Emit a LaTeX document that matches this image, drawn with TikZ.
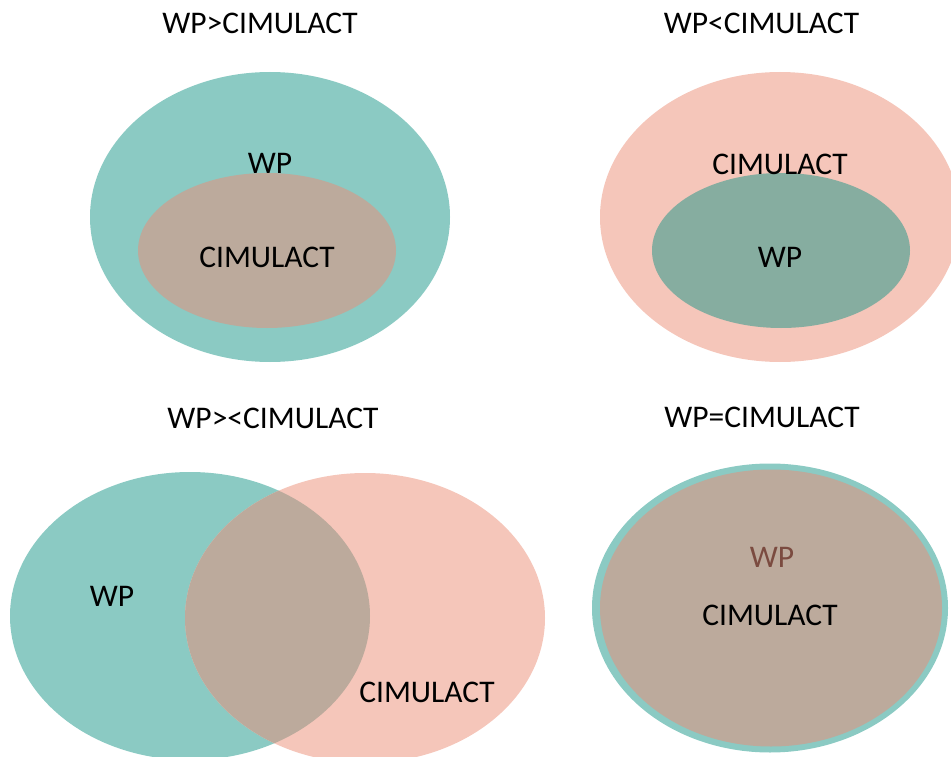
\documentclass[tikz,border=0pt]{standalone}
\usepackage{fontspec}
\setmainfont{Carlito}
\usetikzlibrary{shapes.geometric}
\definecolor{wpteal}{HTML}{8BCAC3}
\definecolor{cimsalmon}{HTML}{F5C6BA}
\definecolor{mixbrown}{HTML}{BCAA9C}
\definecolor{wpdark}{HTML}{86ADA0}
\definecolor{wpred}{HTML}{7B4B40}
\begin{document}
\begin{tikzpicture}[x=1pt,y=-1pt]
\tikzstyle{blob} = [ellipse, inner sep=0pt, draw=none] % овал без контура
\tikzstyle{big} = [blob, minimum width=360pt, minimum height=290pt] % большой овал
\tikzstyle{small} = [blob, minimum width=258pt, minimum height=155pt] % внутренний овал
\tikzstyle{txt} = [font=\fontsize{31.5}{36}\selectfont, inner sep=0pt]
\useasboundingbox (0,0) rectangle (951,757);

% WP > CIMULACT
\node[txt] (t1) at (260,23.5) {WP>CIMULACT};
\node[big, fill=wpteal] (wp1) at (270,217) {};
\node[small, fill=mixbrown] (cim1) at (267,250.5) {};
\node[txt] (lwp1) at (270,163) {WP};
\node[txt] (lcim1) at (267,257) {CIMULACT};

% WP < CIMULACT
\node[txt] (t2) at (761.5,23.5) {WP<CIMULACT};
\node[big, fill=cimsalmon] (cim2) at (780,217) {};
\node[small, fill=wpdark] (wp2) at (781,250.5) {};
\node[txt] (lcim2) at (780,164) {CIMULACT};
\node[txt] (lwp2) at (780,257) {WP};

% WP >< CIMULACT
\node[txt] (t3) at (273,418.5) {WP><CIMULACT};
\node[blob, fill=wpteal, minimum width=360pt, minimum height=288pt] (wp3) at (190,616) {};
\node[big, fill=cimsalmon] (cim3) at (365,618) {};
\begin{scope}
\clip (365,618) ellipse [x radius=180, y radius=145];
\fill[mixbrown] (190,616) ellipse [x radius=180, y radius=144];
\end{scope}
\node[txt] (lwp3) at (112,596) {WP};
\node[txt] (lcim3) at (427,692) {CIMULACT};

% WP = CIMULACT
\node[txt] (t4) at (762,417) {WP=CIMULACT};
\node[blob, fill=wpteal, minimum width=356pt, minimum height=289pt] (wp4) at (770,608) {};
\node[blob, fill=mixbrown, minimum width=342pt, minimum height=277pt] (cim4) at (771,608) {};
\node[txt, text=wpred] (lwp4) at (772,557) {WP};
\node[txt] (lcim4) at (770,615) {CIMULACT};
\end{tikzpicture}
\end{document}
